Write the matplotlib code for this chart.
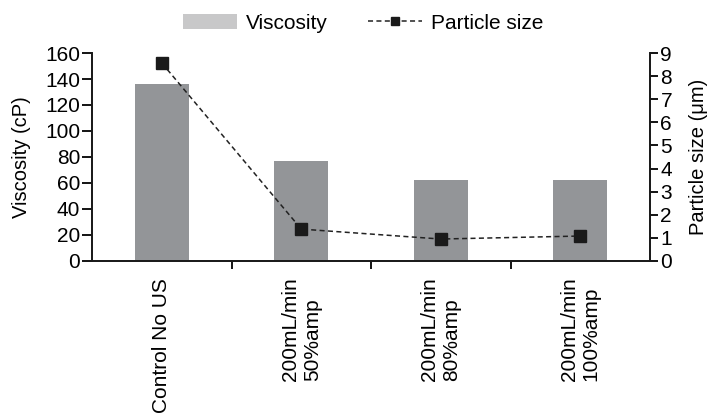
import matplotlib
matplotlib.use("Agg")
import matplotlib.pyplot as plt
from matplotlib.patches import Patch
from matplotlib.lines import Line2D
import numpy as np

plt.rcParams['font.family'] = ['Liberation Sans', 'DejaVu Sans']

categories = ["Control No US", "200mL/min\n50%amp", "200mL/min\n80%amp", "200mL/min\n100%amp"]
viscosity = [136, 77, 62.5, 62.5]
particle_size = [8.57, 1.38, 0.95, 1.08]
visc_ticks = [0, 20, 40, 60, 80, 100, 120, 140, 160]
size_ticks = [0, 1, 2, 3, 4, 5, 6, 7, 8, 9]

bar_color = "#939598"
legend_bar_color = "#c8c8c9"
line_color = "#222222"
marker_color = "#1a1a1a"
dash = (0, (3.3, 2.2))
narrow = ['Liberation Sans Narrow', 'Liberation Sans', 'DejaVu Sans']

fig = plt.figure(figsize=(7.09, 4.2), dpi=100)
ax = fig.add_axes([0.1298, 0.3786, 0.7870, 0.4952])
ax2 = ax.twinx()

x = np.arange(len(categories))
ax.bar(x, viscosity, width=0.39, color=bar_color, zorder=1)
ax.set_xlim(-0.5, len(categories) - 0.5)
ax.set_ylim(0, 160)
ax.set_yticks(visc_ticks)
ax.set_ylabel("Viscosity (cP)", fontsize=14.5, family=narrow, labelpad=10)

ax2.plot(x, particle_size, color=line_color, linestyle=dash, linewidth=1.1,
         marker="s", markersize=8, markerfacecolor=marker_color, markeredgecolor=marker_color)
ax2.set_ylim(0, 9)
ax2.set_yticks(size_ticks)
ax2.set_ylabel("Particle size (\u03bcm)", fontsize=14.5, family=narrow, labelpad=12)

# category boundaries carry the x ticks; labels sit under the bars
ax.set_xticks(np.arange(0.5, len(categories) - 0.5, 1.0))
ax.set_xticklabels([])
ax.tick_params(axis="x", which="major", length=6, width=1.3, direction="out")
ax.set_xticks(x, minor=True)
ax.set_xticklabels(categories, minor=True, rotation=90, fontsize=15,
                   va="top", ha="center", multialignment="left")
ax.tick_params(axis="x", which="minor", length=0, pad=12)

ax.tick_params(axis="y", length=7.5, width=1.3, labelsize=15, pad=1)
ax2.tick_params(axis="y", length=6, width=1.3, labelsize=15, pad=1.5)

for a in (ax, ax2):
    a.spines["top"].set_visible(False)
    for s in ("left", "right", "bottom"):
        a.spines[s].set_linewidth(1.3)
        a.spines[s].set_color("#1a1a1a")

handles = [
    Patch(facecolor=legend_bar_color, edgecolor="none", label="Viscosity"),
    Line2D([], [], color=line_color, linestyle=dash, linewidth=1.1, marker="s",
           markersize=6, markerfacecolor=marker_color, markeredgecolor=marker_color,
           label="Particle size"),
]
fig.legend(handles=handles, loc="upper center", bbox_to_anchor=(0.512, 1.012), ncol=2,
           frameon=False, fontsize=15, handlelength=2.6, handleheight=0.7,
           columnspacing=1.9, handletextpad=0.43)

fig.savefig("out.png", dpi=100)
